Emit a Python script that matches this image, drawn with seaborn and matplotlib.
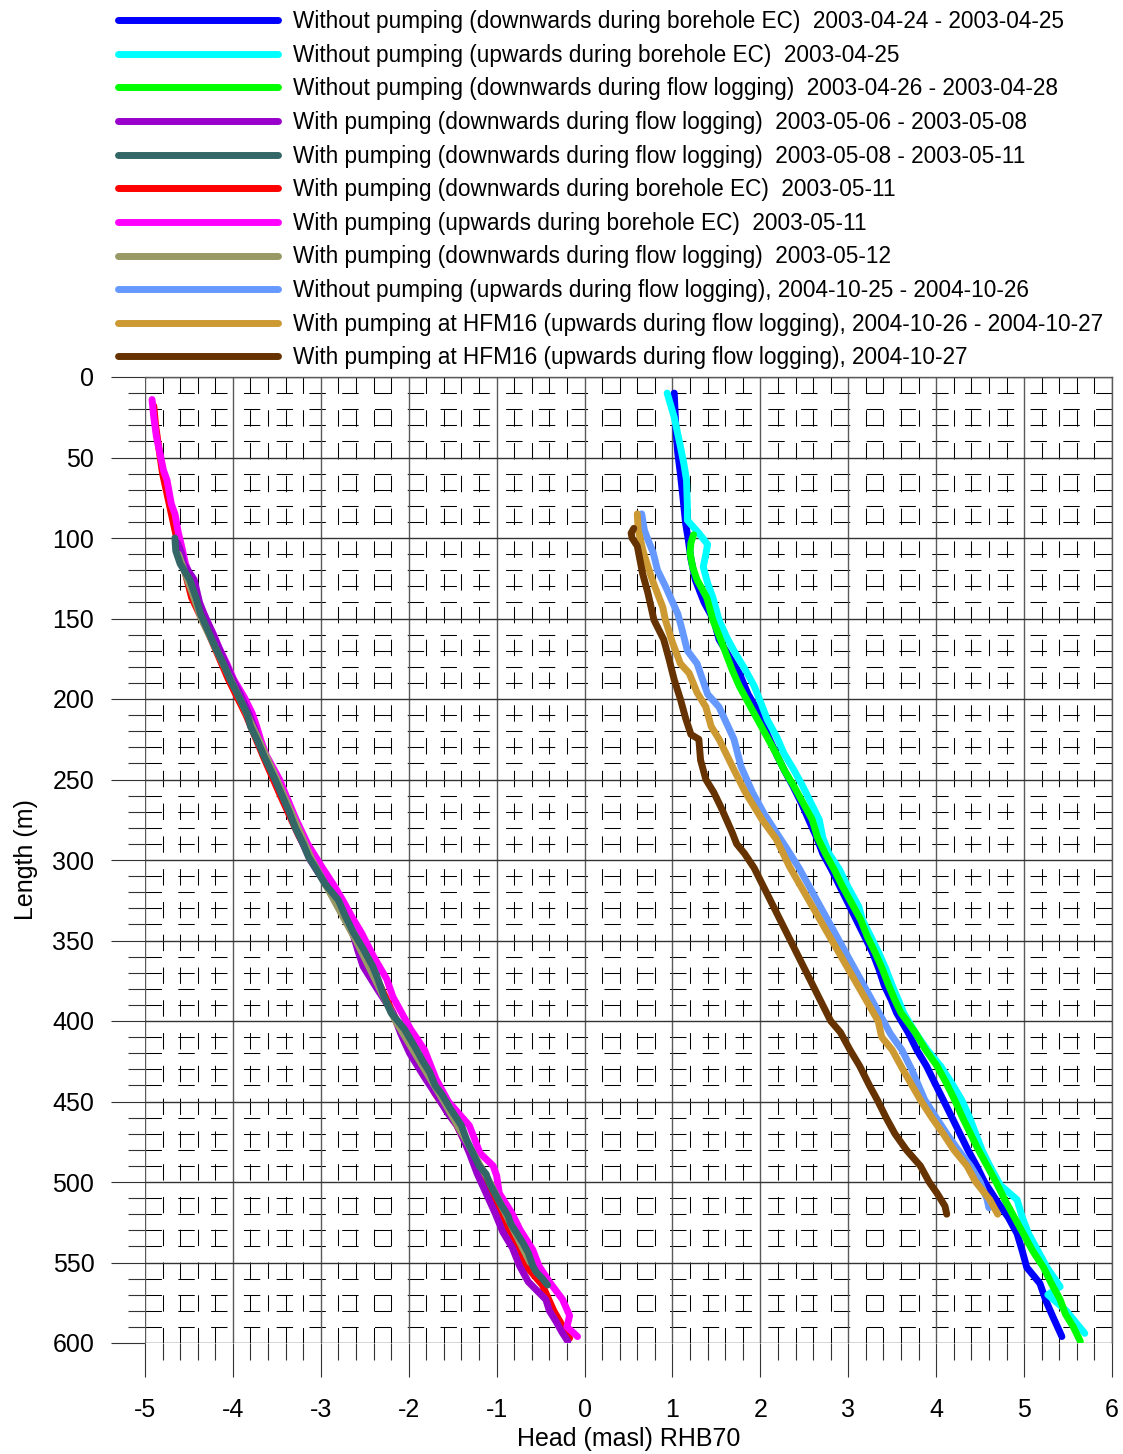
import numpy as np
import pandas as pd
import matplotlib
matplotlib.use("Agg")
import matplotlib.pyplot as plt
import seaborn as sns

# ---- measured head profiles: length along borehole (m) and head (masl) ----
blue_len = [10, 22, 33, 47, 60, 75, 91, 101, 113, 126, 140, 151, 163, 174, 184, 197, 209, 222, 234, 244, 254, 265, 275, 286, 296, 306, 316, 327, 337, 348, 358, 368, 378, 387, 395, 407, 418, 428, 438, 449, 460, 470, 480, 490, 500, 511, 522, 532, 543, 553, 563, 574, 584, 596]
blue_head = [1.02, 1.03, 1.04, 1.06, 1.09, 1.12, 1.15, 1.18, 1.21, 1.26, 1.36, 1.47, 1.53, 1.65, 1.76, 1.86, 1.99, 2.08, 2.18, 2.27, 2.37, 2.47, 2.55, 2.64, 2.71, 2.81, 2.90, 3.00, 3.09, 3.19, 3.28, 3.35, 3.41, 3.49, 3.55, 3.68, 3.78, 3.89, 3.98, 4.08, 4.18, 4.27, 4.36, 4.46, 4.55, 4.68, 4.82, 4.92, 4.98, 5.03, 5.18, 5.25, 5.33, 5.43]

cyan_len = [10, 25, 43, 54, 64, 80, 89, 97, 104, 110, 118, 128, 137, 151, 162, 172, 182, 192, 203, 213, 224, 234, 244, 254, 265, 275, 286, 296, 306, 316, 329, 337, 348, 358, 368, 378, 387, 395, 407, 418, 428, 438, 449, 460, 470, 480, 490, 502, 511, 522, 532, 542, 553, 565, 570, 580, 594]
cyan_head = [0.94, 1.02, 1.09, 1.13, 1.16, 1.17, 1.17, 1.30, 1.40, 1.38, 1.35, 1.40, 1.46, 1.53, 1.62, 1.72, 1.83, 1.93, 2.01, 2.08, 2.19, 2.27, 2.38, 2.48, 2.58, 2.67, 2.71, 2.78, 2.90, 2.99, 3.12, 3.16, 3.26, 3.35, 3.43, 3.50, 3.57, 3.63, 3.76, 3.90, 4.05, 4.17, 4.29, 4.38, 4.45, 4.52, 4.61, 4.73, 4.92, 4.98, 5.05, 5.15, 5.26, 5.41, 5.27, 5.48, 5.69]

green_len = [98, 103, 109, 118, 126, 137, 151, 162, 172, 182, 192, 203, 213, 224, 234, 244, 254, 265, 275, 286, 296, 306, 316, 327, 337, 348, 358, 368, 378, 387, 395, 407, 418, 428, 438, 449, 460, 470, 480, 490, 500, 511, 522, 532, 543, 553, 563, 573, 582, 590, 599]
green_head = [1.24, 1.21, 1.20, 1.23, 1.28, 1.39, 1.46, 1.54, 1.61, 1.68, 1.76, 1.87, 1.97, 2.08, 2.18, 2.27, 2.38, 2.49, 2.59, 2.65, 2.74, 2.84, 2.93, 3.04, 3.14, 3.22, 3.31, 3.39, 3.46, 3.53, 3.60, 3.76, 3.88, 4.01, 4.11, 4.21, 4.30, 4.39, 4.48, 4.58, 4.68, 4.78, 4.89, 4.99, 5.10, 5.22, 5.31, 5.41, 5.47, 5.56, 5.64]

purple_len = [103, 110, 116, 126, 140, 147, 158, 168, 178, 188, 199, 209, 220, 230, 240, 250, 262, 275, 288, 300, 312, 325, 335, 345, 356, 366, 380, 395, 408, 420, 435, 449, 457, 465, 473, 482, 495, 507, 519, 531, 541, 552, 562, 573, 580, 587, 593, 599]
purple_head = [-4.63, -4.58, -4.56, -4.44, -4.38, -4.33, -4.24, -4.16, -4.08, -4.00, -3.90, -3.82, -3.74, -3.68, -3.59, -3.52, -3.42, -3.32, -3.22, -3.12, -2.98, -2.82, -2.72, -2.64, -2.58, -2.52, -2.36, -2.18, -2.09, -1.99, -1.82, -1.65, -1.56, -1.45, -1.38, -1.31, -1.22, -1.12, -1.02, -0.93, -0.82, -0.74, -0.64, -0.44, -0.40, -0.32, -0.26, -0.19]

slate_len = [100, 108, 116, 126, 137, 147, 158, 168, 178, 188, 199, 209, 217, 226, 235, 250, 260, 270, 280, 290, 298, 305, 315, 325, 335, 345, 355, 366, 374, 385, 395, 405, 418, 425, 432, 440, 445, 455, 465, 474, 482, 490, 495, 501, 507, 514, 521, 526, 531, 538, 544, 552, 556, 560, 564]
slate_head = [-4.66, -4.65, -4.60, -4.49, -4.42, -4.37, -4.28, -4.20, -4.11, -4.03, -3.93, -3.84, -3.80, -3.72, -3.65, -3.52, -3.44, -3.36, -3.29, -3.20, -3.14, -3.06, -2.95, -2.80, -2.72, -2.63, -2.52, -2.41, -2.35, -2.28, -2.20, -2.05, -1.91, -1.84, -1.76, -1.70, -1.63, -1.52, -1.40, -1.34, -1.27, -1.20, -1.12, -1.08, -1.02, -0.95, -0.87, -0.84, -0.78, -0.70, -0.64, -0.59, -0.55, -0.48, -0.42]

red_len = [18, 30, 45, 60, 80, 100, 120, 137, 160, 188, 210, 235, 260, 285, 305, 325, 350, 374, 395, 420, 445, 465, 482, 507, 531, 550, 564, 580, 597]
red_head = [-4.90, -4.88, -4.84, -4.80, -4.72, -4.64, -4.55, -4.47, -4.27, -4.05, -3.85, -3.66, -3.46, -3.25, -3.05, -2.82, -2.60, -2.36, -2.18, -1.95, -1.70, -1.45, -1.30, -1.08, -0.88, -0.70, -0.48, -0.35, -0.17]

magenta_len = [14, 25, 37, 50, 58, 64, 79, 85, 97, 106, 116, 126, 137, 151, 160, 168, 178, 188, 199, 209, 217, 226, 235, 250, 262, 275, 290, 305, 315, 325, 335, 345, 360, 374, 385, 395, 405, 418, 436, 450, 465, 482, 490, 496, 507, 519, 530, 542, 552, 562, 573, 583, 590, 596]
magenta_head = [-4.92, -4.90, -4.87, -4.82, -4.79, -4.75, -4.70, -4.66, -4.62, -4.58, -4.54, -4.47, -4.41, -4.30, -4.22, -4.16, -4.07, -3.99, -3.87, -3.78, -3.73, -3.68, -3.62, -3.47, -3.38, -3.28, -3.15, -2.98, -2.86, -2.75, -2.65, -2.54, -2.40, -2.25, -2.18, -2.08, -1.98, -1.82, -1.69, -1.55, -1.31, -1.19, -1.04, -1.00, -0.97, -0.83, -0.73, -0.59, -0.52, -0.40, -0.25, -0.17, -0.20, -0.08]

olive_len = [110, 150, 200, 250, 300, 350, 400, 450, 500, 550]
olive_head = [-4.62, -4.36, -3.92, -3.50, -3.10, -2.60, -2.15, -1.60, -1.08, -0.62]

lblue_len = [85, 95, 101, 109, 120, 130, 147, 155, 170, 178, 197, 205, 225, 242, 258, 271, 282, 292, 305,
             np.nan,
             400, 408, 418, 430, 449, 460, 470, 480, 490, 500, 511, 516]
lblue_head = [0.65, 0.68, 0.72, 0.78, 0.83, 0.92, 1.06, 1.10, 1.17, 1.28, 1.40, 1.53, 1.70, 1.78, 1.91, 2.04, 2.17, 2.29, 2.44,
              np.nan,
              3.40, 3.48, 3.61, 3.72, 3.87, 4.00, 4.12, 4.25, 4.39, 4.50, 4.58, 4.60]

gold_len = [85, 95, 109, 126, 143, 151, 165, 178, 184, 196, 205, 217, 225, 244, 258, 275, 287, 304,
            np.nan,
            400, 410, 418, 430, 449, 460, 470, 480, 490, 500, 511, 520]
gold_head = [0.60, 0.61, 0.67, 0.77, 0.89, 0.92, 1.00, 1.09, 1.19, 1.28, 1.38, 1.44, 1.53, 1.70, 1.83, 2.02, 2.18, 2.33,
             np.nan,
             3.34, 3.38, 3.50, 3.62, 3.82, 3.95, 4.08, 4.20, 4.35, 4.45, 4.61, 4.70]

brown_len = [94, 97, 100, 105, 122, 134, 151, 163, 175, 188, 200, 212, 222, 225, 238, 250, 258, 267, 283, 290, 296, 305,
             np.nan,
             400, 407, 418, 428, 440, 449, 460, 470, 480, 490, 500, 507, 515, 520]
brown_head = [0.56, 0.53, 0.54, 0.60, 0.66, 0.72, 0.79, 0.90, 0.96, 1.02, 1.09, 1.15, 1.21, 1.30, 1.32, 1.38, 1.47, 1.55, 1.68, 1.73, 1.82, 1.93,
              np.nan,
              2.80, 2.91, 3.02, 3.13, 3.24, 3.33, 3.43, 3.53, 3.66, 3.82, 3.92, 4.01, 4.10, 4.12]

labels = [
    "Without pumping (downwards during borehole EC)  2003-04-24 - 2003-04-25",
    "Without pumping (upwards during borehole EC)  2003-04-25",
    "Without pumping (downwards during flow logging)  2003-04-26 - 2003-04-28",
    "With pumping (downwards during flow logging)  2003-05-06 - 2003-05-08",
    "With pumping (downwards during flow logging)  2003-05-08 - 2003-05-11",
    "With pumping (downwards during borehole EC)  2003-05-11",
    "With pumping (upwards during borehole EC)  2003-05-11",
    "With pumping (downwards during flow logging)  2003-05-12",
    "Without pumping (upwards during flow logging), 2004-10-25 - 2004-10-26",
    "With pumping at HFM16 (upwards during flow logging), 2004-10-26 - 2004-10-27",
    "With pumping at HFM16 (upwards during flow logging), 2004-10-27",
]
colors = ["#0000FF", "#00FFFF", "#00FF00", "#9900CC", "#336666", "#FF0000",
          "#FF00FF", "#999966", "#6699FF", "#CC9933", "#663300"]
series = [(blue_head, blue_len), (cyan_head, cyan_len), (green_head, green_len),
          (purple_head, purple_len), (slate_head, slate_len), (red_head, red_len),
          (magenta_head, magenta_len), (olive_head, olive_len), (lblue_head, lblue_len),
          (gold_head, gold_len), (brown_head, brown_len)]
# stacking order of the profiles (higher drawn on top)
zorders = [2.0, 2.1, 2.2, 2.5, 2.7, 2.3, 2.4, 2.6, 2.8, 2.9, 3.0]

x_major = np.arange(-5, 7, 1)
x_minor = np.arange(-5, 6.001, 0.2)
y_major = np.arange(0, 601, 50)
y_minor = np.arange(0, 601, 10)

sns.set_theme(style="white")
plt.rcParams["font.family"] = ["Liberation Sans", "DejaVu Sans"]
plt.rcParams["axes.unicode_minus"] = False
plt.rcParams["lines.scale_dashes"] = False

W, H = 1123, 1454
fig = plt.figure(figsize=(W / 100, H / 100), dpi=100)
ax = fig.add_axes([145 / W, 1 - 1343 / H, (1112 - 145) / W, (1343 - 377) / H])

grid_dark = "#5a5a5a"
# minor grid: dashed lines, verticals from the top, horizontals from the right
dash = (0, (11.8, 11.8))
for xv in x_minor:
    if abs(xv - round(xv)) > 1e-6:
        ax.plot([xv, xv], [0, 600], color="black", lw=0.75, ls=dash, zorder=0.5)
for yv in y_minor:
    if yv % 50 != 0:
        ax.plot([6, -5], [yv, yv], color="black", lw=0.75, ls=dash, zorder=0.5)
# major grid
for xv in x_major:
    ax.plot([xv, xv], [0, 600], color=grid_dark, lw=1.0, zorder=0.6)
for yv in y_major:
    ax.plot([-5, 6], [yv, yv], color="#333333", lw=1.0, zorder=0.6)

LW = 5.0
handles = []
for (hx, ly), col, lab, zo in zip(series, colors, labels, zorders):
    df = pd.DataFrame({"head": hx, "length": ly})
    sns.lineplot(data=df, x="head", y="length", sort=False, estimator=None,
                 color=col, lw=LW, ax=ax, zorder=zo, solid_capstyle="round",
                 solid_joinstyle="round", legend=False)
    handles.append(ax.lines[-1])

ax.set_xlim(-5, 6)
ax.set_ylim(600, 0)
ax.set_xticks(x_major)
ax.set_xticks(x_minor, minor=True)
ax.set_yticks(y_major)
ax.set_yticks(y_minor, minor=True)
ax.tick_params(which="major", direction="out", length=24.5, width=0.8, color="#333333",
               labelsize=18, bottom=True, left=True, labelcolor="black")
ax.tick_params(which="minor", direction="out", length=12, width=0.8, color="#333333",
               bottom=True, left=True)
ax.tick_params(axis="y", which="major", pad=12)
ax.tick_params(axis="x", which="major", pad=15)
for s in ax.spines.values():
    s.set_color(grid_dark)
    s.set_linewidth(1.0)
ax.spines["left"].set_visible(False)
ax.spines["bottom"].set_visible(False)

ax.set_xlabel("Head (masl) RHB70", fontsize=18, labelpad=4, color="black")
ax.set_ylabel("Length (m)", fontsize=18, labelpad=10, color="black")

leg = ax.legend(handles, labels, loc="upper left", bbox_to_anchor=(118 / W, 1 - 10 / H),
                bbox_transform=fig.transFigure, frameon=False, fontsize=16.3,
                handlelength=7.05, handletextpad=0.66, labelspacing=0.47,
                borderpad=0, borderaxespad=0)
for t in leg.get_texts():
    t.set_color("black")
for lh in leg.get_lines():
    lh.set_linewidth(LW)
    lh.set_solid_capstyle("round")

fig.savefig("out.png", dpi=100)
